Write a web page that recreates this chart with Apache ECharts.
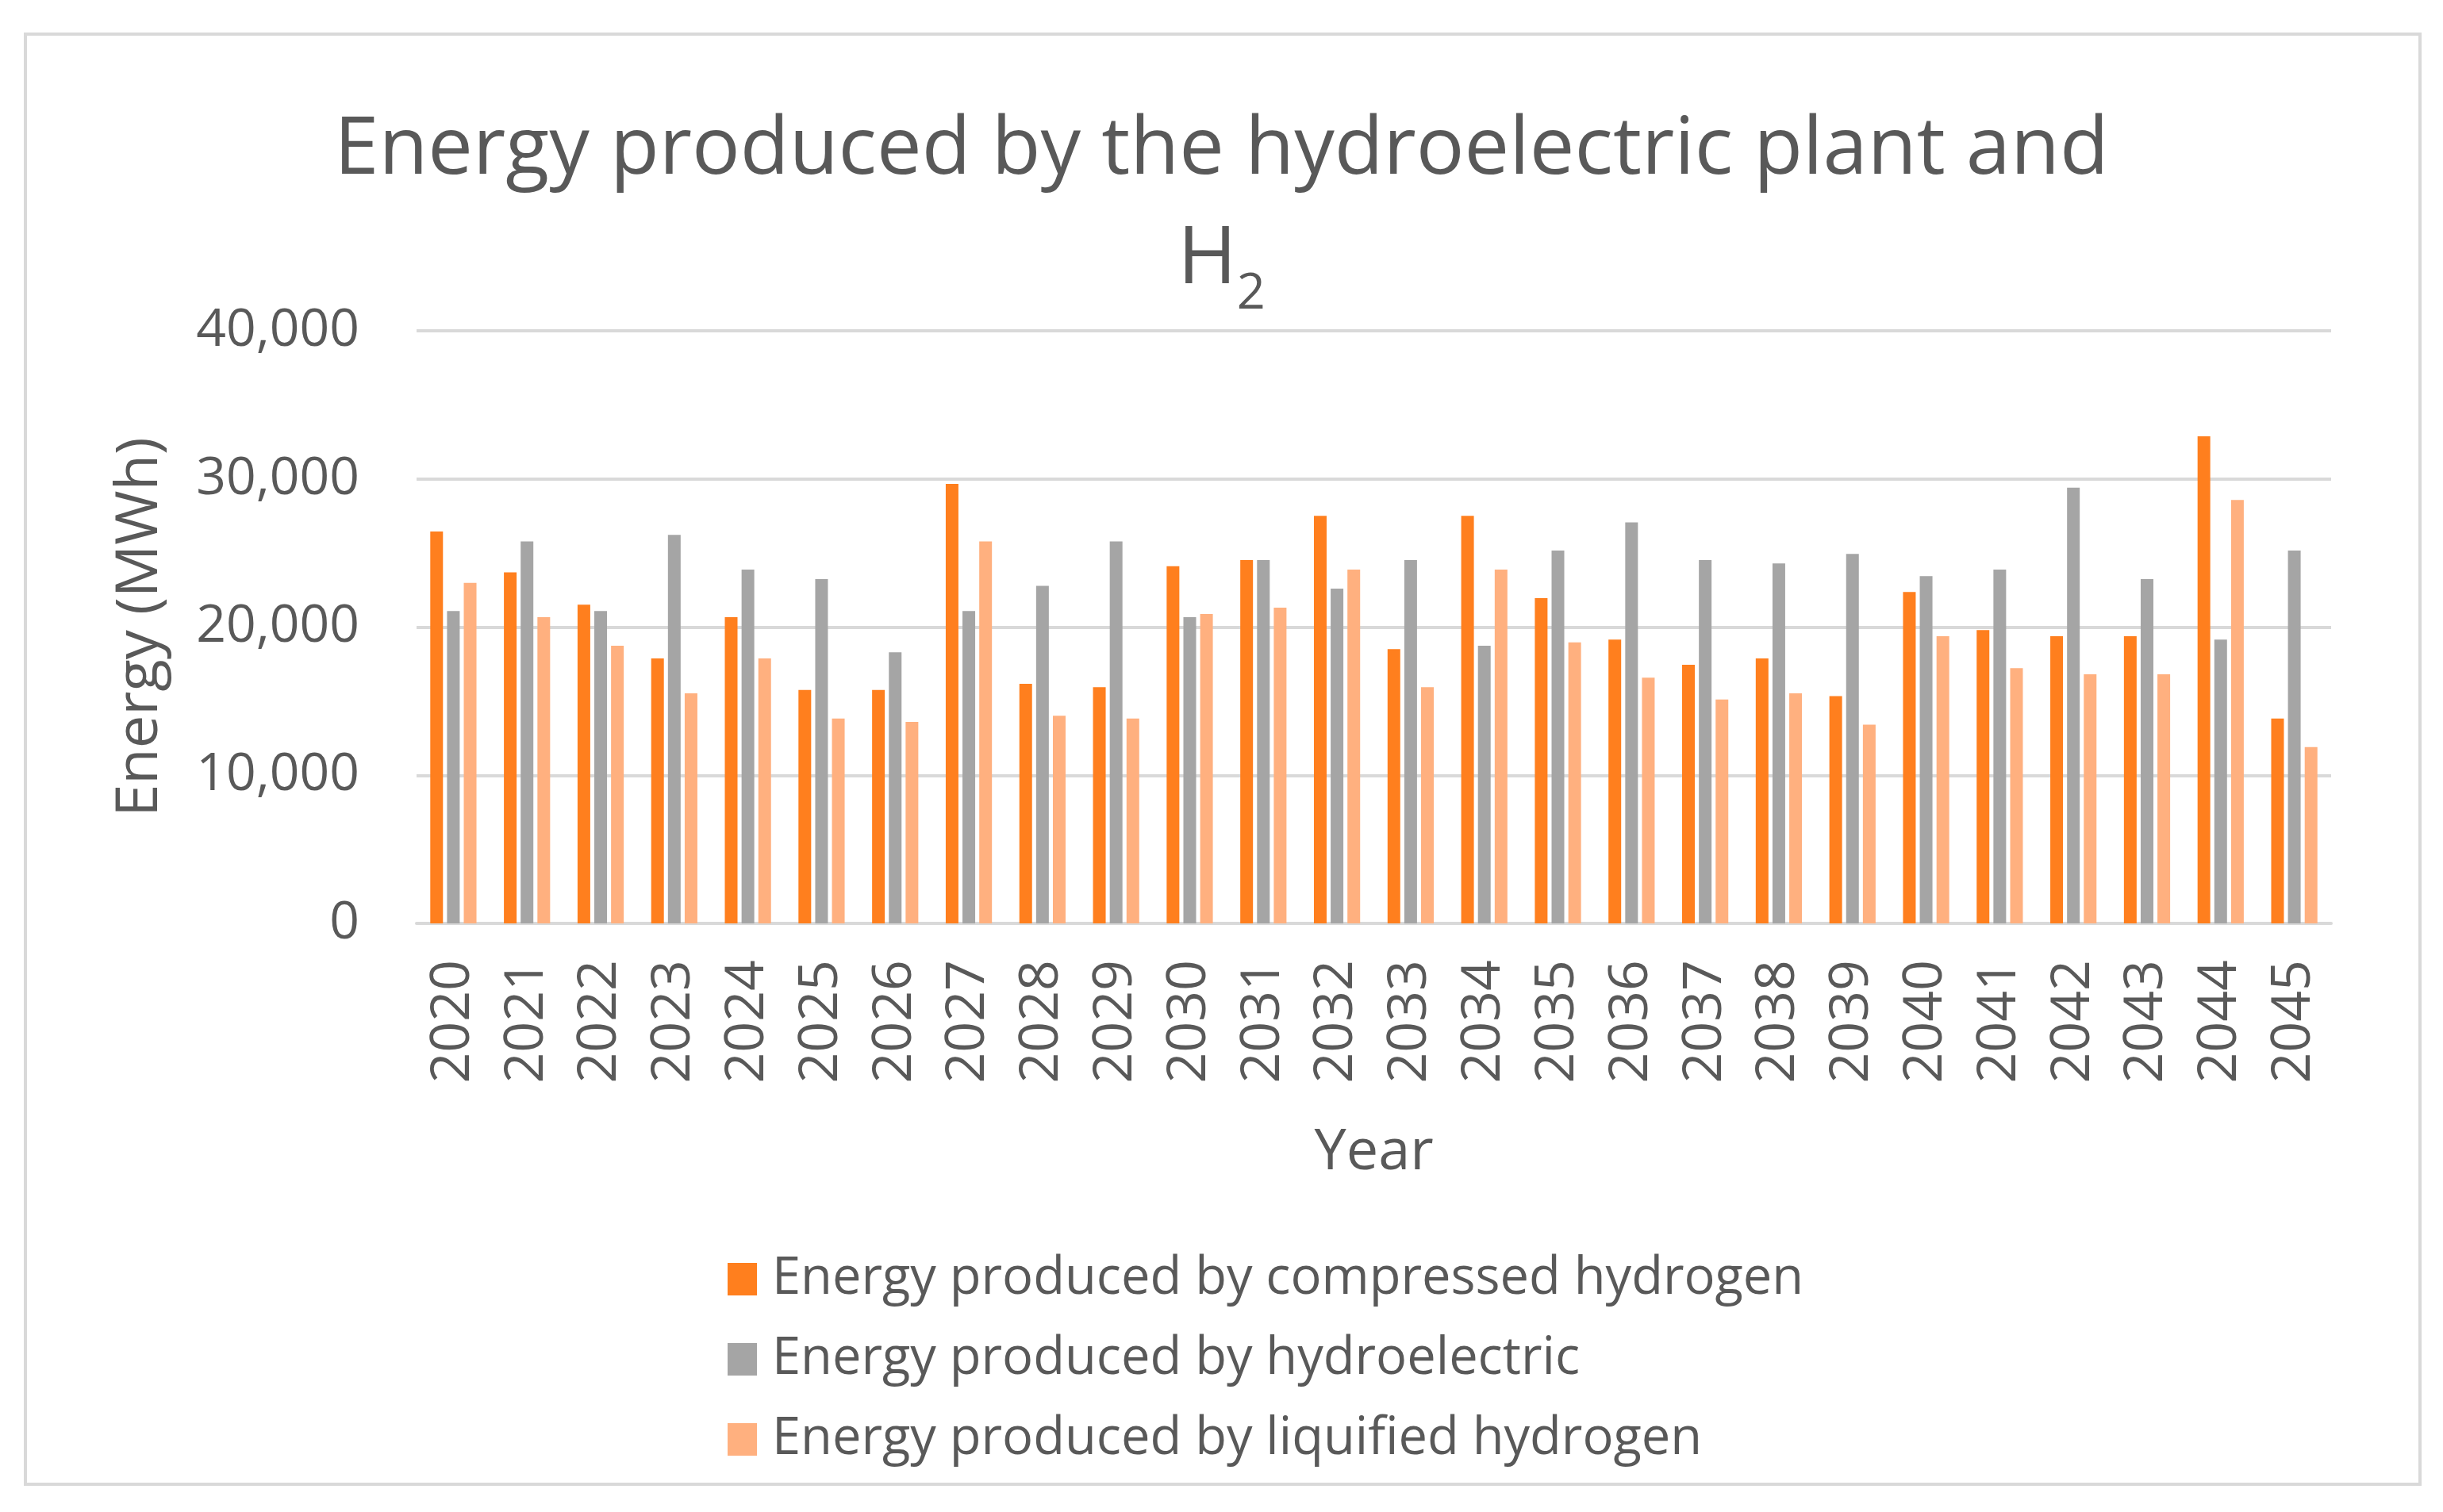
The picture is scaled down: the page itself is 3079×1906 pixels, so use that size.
<!DOCTYPE html>
<html>
<head>
<meta charset="utf-8">
<script src="https://cdn.jsdelivr.net/npm/echarts@6/dist/echarts.min.js"></script>
<style>html,body{margin:0;padding:0;background:#fff;}#c{width:3079px;height:1906px;}</style>
</head>
<body>
<div id="c"></div>
<script>
const years = ['2020','2021','2022','2023','2024','2025','2026','2027','2028','2029','2030','2031','2032','2033','2034','2035','2036','2037','2038','2039','2040','2041','2042','2043','2044','2045'];
const compressed = [26450,23690,21510,17880,20670,15750,15750,29660,16170,15950,24110,24530,27510,18520,27510,21960,19160,17460,17880,15340,22370,19800,19390,19390,32880,13830];
const hydro = [21090,25780,21090,26230,23880,23240,18300,21090,22790,25780,20670,24530,22600,24530,18740,25170,27070,24530,24300,24940,23440,23880,29410,23240,19160,25170];
const liquified = [22990,20670,18740,15530,17880,13830,13600,25780,14020,13830,20890,21310,23880,15950,23880,18970,16590,15110,15530,13410,19390,17230,16820,16820,28580,11900];
const yTicks = [0,10000,20000,30000,40000];

const font = '"Open Sans", "Noto Sans", sans-serif';
const txt = '#595959';
const chart = echarts.init(document.getElementById('c'));
chart.setOption({
  animation: false,
  backgroundColor: '#fff',
  graphic: [{type:'rect', shape:{x:32,y:43,width:3018,height:1828}, style:{fill:'none', stroke:'#D9D9D9', lineWidth:4}}],
  title: [{
    text: 'Energy produced by the hydroelectric plant and',
    left: 'center', top: 140, padding: 0,
    textStyle: {fontFamily: font, fontSize: 101, fontWeight: 'normal', color: txt, lineHeight: 101}
  }, {
    text: '{m|H}{s|2}',
    left: 'center', top: 278, padding: 0,
    textStyle: {fontFamily: font, fontSize: 101, fontWeight: 'normal', color: txt,
      rich: {m:{fontFamily: font, fontSize: 101, color: txt, lineHeight:101},
             s:{fontFamily: font, fontSize: 63, color: txt, lineHeight:101, padding:[86,0,0,0]}}}
  }],
  grid: {left: 525, right: 141, top: 417, bottom: 742, containLabel: false},
  legend: {
    orient: 'vertical', left: 917, top: 1580, padding: 0, itemWidth: 37, itemHeight: 41, itemGap: 36,
    icon: 'rect',
    textStyle: {fontFamily: font, fontSize: 65, color: txt, padding: [0,0,0,14]},
    data: ['Energy produced by compressed hydrogen','Energy produced by hydroelectric','Energy produced by liquified hydrogen']
  },
  xAxis: {
    type: 'category', data: years,
    name: 'Year', nameLocation: 'middle', nameGap: 253,
    nameTextStyle: {fontFamily: font, fontSize: 72, color: txt},
    axisLine: {lineStyle: {color: '#D9D9D9', width: 4}},
    axisTick: {show: false},
    axisLabel: {rotate: 90, margin: 46, fontFamily: font, fontSize: 68, color: txt}
  },
  yAxis: {
    type: 'value', min: 0, max: 40000, interval: 10000,
    name: 'Energy (MWh)', nameLocation: 'middle', nameGap: 311,
    nameTextStyle: {fontFamily: font, fontSize: 74, color: txt},
    axisLine: {show: false}, axisTick: {show: false},
    splitLine: {lineStyle: {color: '#D9D9D9', width: 4}},
    axisLabel: {margin: 72, fontFamily: font, fontSize: 66, color: txt,
      formatter: v => v.toLocaleString('en-US')}
  },
  series: [
    {name: 'Energy produced by compressed hydrogen', type: 'bar', data: compressed, barWidth: 16, barGap: '32%', itemStyle: {color: '#FF7F1E'}},
    {name: 'Energy produced by hydroelectric', type: 'bar', data: hydro, barWidth: 16, barGap: '32%', itemStyle: {color: '#A5A5A5'}},
    {name: 'Energy produced by liquified hydrogen', type: 'bar', data: liquified, barWidth: 16, barGap: '32%', itemStyle: {color: '#FFB07F'}}
  ]
});
</script>
</body>
</html>
